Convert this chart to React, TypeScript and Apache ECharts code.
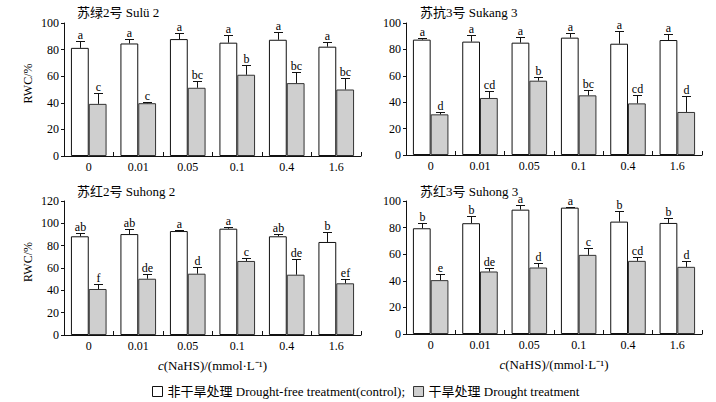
import React, { useEffect, useRef } from "react";
import * as echarts from "echarts";

const categories = ["0", "0.01", "0.05", "0.1", "0.4", "1.6"];
const panelTitles = ["苏绿2号 Sulü 2", "苏抗3号 Sukang 3", "苏红2号 Suhong 2", "苏红3号 Suhong 3"];
const yMaxes = [100, 100, 120, 100];
const controlName = "非干旱处理 Drought-free treatment(control);";
const droughtName = "干旱处理 Drought treatment";

// 苏绿2号 Sulü 2
const sulu2Control = [81.3, 84.6, 87.9, 85.2, 87.4, 82.2];
const sulu2ControlErr = [5.5, 3, 4.3, 6, 5.6, 3.5];
const sulu2Drought = [39.2, 39.7, 51.3, 61.1, 54.8, 50];
const sulu2DroughtErr = [8.5, 1, 5, 7, 8.5, 8.8];
const sulu2ControlLetters = ["a", "a", "a", "a", "a", "a"];
const sulu2DroughtLetters = ["c", "c", "bc", "b", "bc", "bc"];

// 苏抗3号 Sukang 3
const sukang3Control = [87.4, 85.9, 85.1, 88.9, 84.3, 87.1];
const sukang3ControlErr = [1.5, 4.8, 4.5, 3.3, 9.6, 4.8];
const sukang3Drought = [30.8, 43.2, 56.3, 45.2, 39.1, 32.6];
const sukang3DroughtErr = [1.5, 5.3, 2.8, 3.8, 6.6, 12.3];
const sukang3ControlLetters = ["a", "a", "a", "a", "a", "a"];
const sukang3DroughtLetters = ["d", "cd", "b", "bc", "cd", "d"];

// 苏红2号 Suhong 2
const suhong2Control = [88.4, 90.4, 93.1, 95.2, 88.4, 83.3];
const suhong2ControlErr = [3.3, 4.8, 0.9, 1.5, 2, 8.6];
const suhong2Drought = [41.2, 50.4, 54.9, 66.3, 54, 46.3];
const suhong2DroughtErr = [4.8, 4.5, 6, 2.4, 14.4, 3.9];
const suhong2ControlLetters = ["ab", "ab", "a", "a", "ab", "b"];
const suhong2DroughtLetters = ["f", "de", "d", "c", "de", "ef"];

// 苏红3号 Suhong 3
const suhong3Control = [79.5, 83.3, 93.5, 95, 84.5, 83.5];
const suhong3ControlErr = [4, 5.3, 3.5, 0.5, 8, 3.8];
const suhong3Drought = [40.5, 47, 50, 59.5, 55, 50.5];
const suhong3DroughtErr = [4.3, 2.5, 3.3, 5.5, 3, 4.3];
const suhong3ControlLetters = ["b", "b", "a", "a", "b", "b"];
const suhong3DroughtLetters = ["e", "de", "d", "c", "cd", "d"];

const panels = [
  { c: sulu2Control, ce: sulu2ControlErr, d: sulu2Drought, de: sulu2DroughtErr, cl: sulu2ControlLetters, dl: sulu2DroughtLetters },
  { c: sukang3Control, ce: sukang3ControlErr, d: sukang3Drought, de: sukang3DroughtErr, cl: sukang3ControlLetters, dl: sukang3DroughtLetters },
  { c: suhong2Control, ce: suhong2ControlErr, d: suhong2Drought, de: suhong2DroughtErr, cl: suhong2ControlLetters, dl: suhong2DroughtLetters },
  { c: suhong3Control, ce: suhong3ControlErr, d: suhong3Drought, de: suhong3DroughtErr, cl: suhong3ControlLetters, dl: suhong3DroughtLetters },
];

const FONT = "'Liberation Serif', 'Noto Sans CJK SC', serif";
const GAP = 0.28;

const grids = [
  { left: 64, top: 23, width: 297, height: 133 },
  { left: 406, top: 23, width: 296, height: 132 },
  { left: 64, top: 201, width: 297, height: 134 },
  { left: 406, top: 201, width: 296, height: 133 },
];
const titlePos = [
  { left: 77, top: 6 },
  { left: 420, top: 6 },
  { left: 77, top: 185 },
  { left: 420, top: 185 },
];

function errSeries(g: number, values: number[], errs: number[], letters: string[], side: number) {
  return {
    type: "custom",
    xAxisIndex: g,
    yAxisIndex: g,
    data: values.map((v, i) => [i, v, errs[i]]),
    encode: { x: 0, y: 1 },
    z: 5,
    silent: true,
    renderItem: (params: any, api: any) => {
      const i = api.value(0);
      const v = api.value(1);
      const e = api.value(2);
      const band = api.size([1, 0])[0];
      const off = side * band * (1 - GAP) / 4;
      const b = api.coord([i, v]);
      const t = api.coord([i, v + e]);
      const x = Math.round(b[0] + off) + 0.5;
      const ty = Math.round(t[1]) + 0.5;
      return {
        type: "group",
        children: [
          { type: "line", shape: { x1: x, y1: b[1], x2: x, y2: ty }, style: { stroke: "#111", lineWidth: 1 } },
          { type: "line", shape: { x1: x - 4.5, y1: ty, x2: x + 4.5, y2: ty }, style: { stroke: "#111", lineWidth: 1 } },
          {
            type: "text",
            x: x,
            y: ty - 1,
            style: {
              text: letters[params.dataIndex],
              align: "center",
              verticalAlign: "bottom",
              font: "12px " + FONT,
              fill: "#000",
            },
          },
        ],
      };
    },
  };
}

export default function App() {
  const ref = useRef<HTMLDivElement>(null);
  useEffect(() => {
    if (!ref.current) return;
    const chart = echarts.init(ref.current, undefined, { renderer: "svg" });
    const series: any[] = [];
    panels.forEach((p, g) => {
      series.push({
        type: "bar",
        name: controlName,
        xAxisIndex: g,
        yAxisIndex: g,
        data: p.c,
        barGap: "0%",
        barCategoryGap: GAP * 100 + "%",
        itemStyle: { color: "#ffffff", borderColor: "#111", borderWidth: 1 },
        silent: true,
      });
      series.push({
        type: "bar",
        name: droughtName,
        xAxisIndex: g,
        yAxisIndex: g,
        data: p.d,
        barGap: "0%",
        barCategoryGap: GAP * 100 + "%",
        itemStyle: { color: "#cfcfcf", borderColor: "#333", borderWidth: 1 },
        silent: true,
      });
      series.push(errSeries(g, p.c, p.ce, p.cl, -1));
      series.push(errSeries(g, p.d, p.de, p.dl, 1));
    });

    const option: any = {
      animation: false,
      backgroundColor: "#ffffff",
      textStyle: { fontFamily: FONT, color: "#000" },
      title: panelTitles.map((t, i) => ({
        text: t,
        left: titlePos[i].left,
        top: titlePos[i].top,
        padding: 0,
        textStyle: { fontFamily: FONT, fontSize: 13, fontWeight: "normal", color: "#000" },
      })),
      legend: {
        left: 152,
        top: 385,
        itemWidth: 10,
        itemHeight: 10,
        itemGap: 8,
        padding: 0,
        textStyle: { fontFamily: FONT, fontSize: 13, color: "#000", padding: [0, 0, 0, 0] },
        data: [
          { name: controlName, icon: "rect", itemStyle: { color: "#fff", borderColor: "#111", borderWidth: 1 } },
          { name: droughtName, icon: "rect", itemStyle: { color: "#cfcfcf", borderColor: "#333", borderWidth: 1 } },
        ],
        selectedMode: false,
      },
      grid: grids.map((g) => ({ ...g, containLabel: false })),
      xAxis: grids.map((_, i) => ({
        type: "category",
        gridIndex: i,
        data: categories,
        axisLine: { show: true, lineStyle: { color: "#111", width: 1 } },
        axisTick: { show: true, inside: true, length: 4, lineStyle: { color: "#111" } },
        axisLabel: { fontFamily: FONT, fontSize: 12, color: "#000", margin: 5 },
        name: i >= 2 ? "{i|c}(NaHS)/(mmol·L⁻¹)" : "",
        nameLocation: "middle",
        nameGap: 24,
        nameTextStyle: {
          fontFamily: FONT,
          fontSize: 13,
          color: "#000",
          rich: { i: { fontFamily: FONT, fontStyle: "italic", fontSize: 13, color: "#000" } },
        },
      })),
      yAxis: grids.map((_, i) => ({
        type: "value",
        gridIndex: i,
        min: 0,
        max: yMaxes[i],
        interval: 20,
        splitLine: { show: false },
        axisLine: { show: true, lineStyle: { color: "#111", width: 1 } },
        axisTick: { show: true, inside: false, length: 3, lineStyle: { color: "#111" } },
        axisLabel: { fontFamily: FONT, fontSize: 12, color: "#000", margin: 5 },
        name: i % 2 === 0 ? "RWC/%" : "",
        nameLocation: "middle",
        nameGap: 30,
        nameTextStyle: { fontFamily: FONT, fontSize: 12, color: "#000", padding: [0, 0, 0, 12] },
      })),
      series,
    };
    chart.setOption(option);
    return () => chart.dispose();
  }, []);
  return (
    <div
      ref={ref}
      style={{ position: "fixed", left: 0, top: 0, width: 716, height: 402, background: "#fff" }}
    />
  );
}
